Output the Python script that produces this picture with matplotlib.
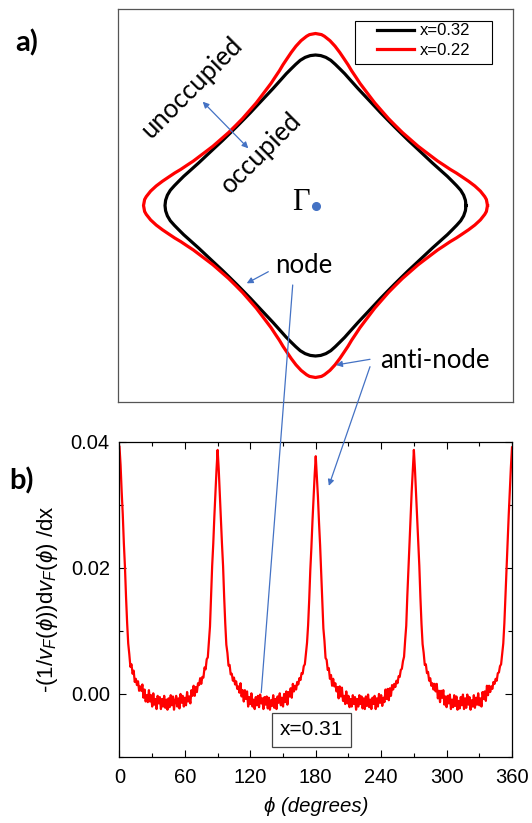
import numpy as np
import matplotlib
matplotlib.use('Agg')
from matplotlib import pyplot as plt
from matplotlib.patches import ConnectionPatch, Rectangle
from matplotlib.ticker import MultipleLocator

plt.rcParams['font.family'] = ['Liberation Sans', 'DejaVu Sans']
plt.rcParams['mathtext.fontset'] = 'custom'
plt.rcParams['mathtext.rm'] = 'Liberation Sans'
plt.rcParams['mathtext.it'] = 'Liberation Sans:italic'

# a) superficie de Fermi: radio vs angulo (un octante, 0-45 grados)
# unidades: media caja = 197
ang_x032 = [0, 2, 4, 6, 8, 10, 12.5, 15, 17.5, 20, 25, 30, 35, 40, 45]
r_x032 = [150.5, 150, 148.5, 146, 142.5, 139, 135, 131, 127.5, 124.4, 119.6, 116, 113.4, 112, 111.5]
ang_x022 = [0, 2, 3, 5, 7, 9, 11, 13, 15, 17.5, 20, 25, 30, 35, 40, 45]
r_x022 = [172, 171, 169.5, 165.5, 160.5, 155, 149.5, 144.5, 139.5, 134.5, 130, 123.5, 118.5, 115.5, 113.5, 113]
etiquetas_a = ['x=0.32', 'x=0.22']

# b) -(1/vF) dvF/dx en unidades de 1e-4, phi = 0..360 cada 1 grado
deriv_e4 = [
    # 0 - 45
    392, 363, 321, 285, 239, 202, 154, 113, 80, 63, 43, 47, 32, 37, 19, 24, 14, 20, 5, 12,
    5, 15, -6, 7, -12, -2, -13, 6, -12, -2, -20, 1, -17, -8, -24, -3, -15, -5, -24, -8,
    -20, -3, -22, -9, -25, -7,
    # 46 - 90
    -21, -2, -18, -4, -25, -11, -3, -20, -7, -23, 0, -14, -3, -20, -6, -18, 3, -12, -4, -15,
    6, -3, 13, -3, 11, 3, 17, 14, 25, 16, 27, 26, 42, 39, 55, 58, 83, 107, 156, 203,
    238, 281, 319, 356, 387,
    # 91 - 135
    357, 317, 281, 238, 203, 154, 112, 78, 65, 45, 46, 31, 32, 21, 26, 15, 20, 8, 12, 2,
    17, -4, 6, -12, 6, -8, 4, -20, -5, -16, 1, -20, -9, -24, -5, -18, -3, -21, -1, -15,
    -7, -24, -5, -17, -4,
    # 136 - 180
    -23, -6, -25, -10, -19, -2, -22, -8, -24, -4, -14, 1, -18, -6, -20, 0, -13, 4, -17, 3,
    -4, 9, -6, 16, 4, 13, 7, 19, 15, 25, 22, 33, 32, 44, 47, 64, 81, 109, 149, 196,
    232, 274, 310, 347, 377,
    # 181 - 225
    345, 313, 272, 236, 193, 152, 104, 84, 57, 54, 38, 41, 24, 30, 13, 24, 12, 17, 4, 11,
    -7, 12, -4, 10, -11, -3, -16, 4, -15, -3, -21, -8, -20, -2, -16, -5, -25, -8, -20, -2,
    -16, -4, -23, -7, -24,
    # 226 - 270
    -4, -19, -1, -21, -9, -24, -6, -16, -3, -24, -7, -20, 0, -14, -2, -19, -6, -13, 7, -8,
    8, -10, 9, -3, 14, 7, 16, 11, 21, 17, 28, 27, 38, 40, 52, 59, 85, 108, 156, 198,
    242, 279, 321, 353, 387,
    # 271 - 315
    356, 318, 282, 239, 203, 153, 111, 79, 65, 46, 47, 33, 35, 21, 25, 13, 17, 7, 16, 4,
    16, -7, 5, -13, 5, -6, 6, -17, -4, -21, -3, -15, -1, -24, -9, -21, -2, -19, -4, -25,
    -11, -23, -5, -18, -1,
    # 316 - 360
    -24, -7, -22, -1, -17, -5, -25, -10, -20, -2, -22, -6, -17, 1, -18, -7, -20, 3, -8, 4,
    -11, 13, -2, 13, 3, 12, 8, 19, 16, 24, 21, 33, 34, 44, 47, 64, 80, 112, 156, 204,
    240, 284, 322, 360, 391,
]
phi = np.linspace(0, 360, len(deriv_e4))
deriv = np.array(deriv_e4) * 1e-4

azul = '#4472C4'


def contorno(ang, r):
    # octante -> cuadrante (espejo en 45) -> vuelta completa (simetria C4)
    ang = np.array(ang, dtype=float)
    r = np.array(r, dtype=float)
    a = np.concatenate([ang, 90 - ang[::-1][1:]])
    rr = np.concatenate([r, r[::-1][1:]])
    a_full = np.concatenate([a[:-1] + 90 * k for k in range(4)] + [[360.0]])
    r_full = np.concatenate([rr[:-1]] * 4 + [[rr[0]]])
    t = np.radians(a_full)
    return r_full * np.cos(t), r_full * np.sin(t)


fig = plt.figure(figsize=(5.32, 8.23), dpi=100)

# ---------------- a) ----------------
ax_a = fig.add_axes([0.2224, 0.5119, 0.7413, 0.4768])
x, y = contorno(ang_x032, r_x032)
ax_a.plot(x, y, color='black', lw=2.3, label=etiquetas_a[0])
x, y = contorno(ang_x022, r_x022)
ax_a.plot(x, y, color='red', lw=2.3, label=etiquetas_a[1])
ax_a.set_xlim(-197.2, 197.2)
ax_a.set_ylim(-196.2, 196.2)
ax_a.set_xticks([])
ax_a.set_yticks([])
for s in ax_a.spines.values():
    s.set_color('#555555')
    s.set_linewidth(0.9)

# leyenda sin marco propio; el marco se dibuja aparte (mas margen a los lados)
ax_a.legend(loc='upper left', bbox_to_anchor=(0.655, 0.964), borderaxespad=0, borderpad=0,
            fontsize=12, handlelength=2.25, handletextpad=0.36, labelspacing=0.25,
            frameon=False)
ax_a.add_patch(Rectangle((0.600, 0.860), 0.347, 0.110, transform=ax_a.transAxes,
                         fill=False, ec='black', lw=0.8, zorder=5))

fuente = ['Lato', 'DejaVu Sans']
ax_a.plot(0, 0, 'o', color=azul, ms=5.5)
ax_a.text(-14.5, 3, 'Γ', family=['Liberation Serif', 'DejaVu Serif'], fontsize=22,
          ha='center', va='center')
ax_a.text(-123.8, 117.5, 'unoccupied', family=fuente, fontsize=18.5, rotation=45,
          ha='center', va='center', rotation_mode='anchor')
ax_a.text(-53.8, 52.5, 'occupied', family=fuente, fontsize=18.5, rotation=45,
          ha='center', va='center', rotation_mode='anchor')
ax_a.text(-12.2, -59.5, 'node', family=fuente, fontsize=18.5, ha='center', va='center')
ax_a.text(119.5, -154.5, 'anti-node', family=fuente, fontsize=18.5, ha='center', va='center')

flecha = dict(arrowstyle='-|>', color=azul, lw=0.9, mutation_scale=9, shrinkA=0, shrinkB=0)
ax_a.annotate('', xy=(-68.8, -77.8), xytext=(-47.2, -66.2), arrowprops=flecha)
ax_a.annotate('', xy=(20.5, -159.5), xytext=(54.5, -153.8), arrowprops=flecha)
ax_a.annotate('', xy=(-112.8, 103.8), xytext=(-67.2, 57.2),
              arrowprops=dict(arrowstyle='<|-|>', color=azul, lw=0.9, mutation_scale=9,
                              shrinkA=0, shrinkB=0))

# ---------------- b) ----------------
ax_b = fig.add_axes([0.2246, 0.0802, 0.7378, 0.3831])
ax_b.plot(phi, deriv, color='red', lw=1.6)
ax_b.set_xlim(0, 360)
ax_b.set_ylim(-0.01, 0.04)
ax_b.set_xticks(np.arange(0, 361, 60))
ax_b.set_yticks([0, 0.02, 0.04])
ax_b.set_yticklabels(['0.00', '0.02', '0.04'])
ax_b.xaxis.set_minor_locator(MultipleLocator(30))
ax_b.yaxis.set_minor_locator(MultipleLocator(0.01))
ax_b.tick_params(which='both', direction='in', top=True, right=True, labelsize=14.5,
                 width=0.8)
ax_b.tick_params(axis='x', pad=8)
ax_b.tick_params(axis='y', pad=7)
ax_b.tick_params(which='major', length=5)
ax_b.tick_params(which='minor', length=3)
for s in ax_b.spines.values():
    s.set_linewidth(0.9)
ax_b.set_xlabel('ϕ (degrees)', fontsize=14.7, fontstyle='italic', labelpad=7)
ax_b.set_ylabel(r'-(1/$v_F(\phi)$)d$v_F(\phi)$ /dx', fontsize=16, labelpad=8)
ax_b.text(176, -0.0057, 'x=0.31', fontsize=15, ha='center', va='center',
          bbox=dict(boxstyle='square,pad=0.36', fc='white', ec='#444444', lw=0.9))

# lineas que unen a) con b)
con = ConnectionPatch(xyA=(-22.8, -79.5), coordsA=ax_a.transData,
                      xyB=(130, 0.0002), coordsB=ax_b.transData,
                      color=azul, lw=0.9)
fig.add_artist(con)
con = ConnectionPatch(xyA=(54.5, -161.2), coordsA=ax_a.transData,
                      xyB=(192, 0.033), coordsB=ax_b.transData,
                      color=azul, lw=0.9, arrowstyle='-|>', mutation_scale=9,
                      shrinkA=0, shrinkB=0)
fig.add_artist(con)

fig.text(0.0508, 0.9478, 'a)', family=fuente, fontsize=21, fontweight='bold',
         ha='center', va='center')
fig.text(0.0395, 0.4155, 'b)', family=fuente, fontsize=21, fontweight='bold',
         ha='center', va='center')

fig.savefig('out.png', dpi=100)
